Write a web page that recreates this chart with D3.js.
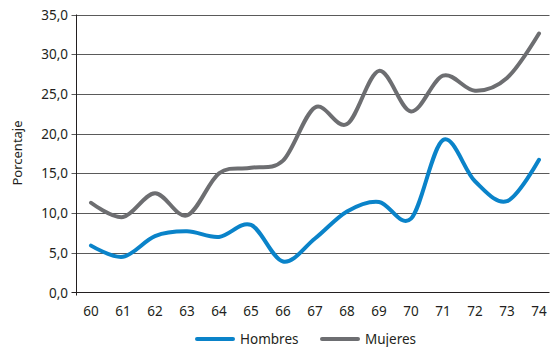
<!DOCTYPE html>
<html>
<head>
<meta charset="utf-8">
<script src="https://cdn.jsdelivr.net/npm/d3@7"></script>
<style>
  html, body { margin: 0; padding: 0; background: #fff; }
  svg { display: block; }
  text { font-family: "Noto Sans", "Open Sans", sans-serif; fill: #231f20; }
</style>
</head>
<body>
<svg id="chart" width="550" height="347"></svg>
<script>
const years = ["60","61","62","63","64","65","66","67","68","69","70","71","72","73","74"];
const hombres = [5.9, 4.5, 7.1, 7.7, 7.0, 8.5, 3.9, 6.8, 10.2, 11.4, 9.3, 19.2, 14.0, 11.5, 16.7];
const mujeres = [11.3, 9.5, 12.5, 9.7, 15.0, 15.7, 16.6, 23.3, 21.2, 27.9, 22.8, 27.3, 25.4, 27.0, 32.6];
const yTicks = [0, 5, 10, 15, 20, 25, 30, 35];
const seriesNames = ["Hombres", "Mujeres"];
const seriesColors = ["#0a83c9", "#6d6e71"];

(function () {
const svg = d3.select("#chart");
const pLeft = 76.5, pRight = 549.5, pTop = 14.5, pBottom = 292.5;

const x = d3.scalePoint().domain(years).range([91, 539]);
const y = d3.scaleLinear().domain([0, 35]).range([pBottom, pTop]);
const fmt = v => d3.format(".1f")(v).replace(".", ",");

// gridlines
svg.append("g").selectAll("line").data(yTicks.filter(d => d > 0)).join("line")
  .attr("x1", pLeft - 5).attr("x2", pRight)
  .attr("y1", d => Math.round(y(d)) + 0.5).attr("y2", d => Math.round(y(d)) + 0.5)
  .attr("stroke", "#5a5a5a").attr("stroke-width", 1);

// y axis labels
svg.append("g").selectAll("text").data(yTicks).join("text")
  .attr("x", 68).attr("y", d => Math.round(y(d)) + 5)
  .attr("text-anchor", "end").attr("font-size", 13.5)
  .text(fmt);

// axes lines
svg.append("line").attr("x1", pLeft).attr("x2", pLeft).attr("y1", pTop).attr("y2", pBottom + 3)
  .attr("stroke", "#231f20").attr("stroke-width", 1);
svg.append("line").attr("x1", pLeft - 5).attr("x2", pRight).attr("y1", pBottom).attr("y2", pBottom)
  .attr("stroke", "#231f20").attr("stroke-width", 1.2);

// x labels
svg.append("g").selectAll("text").data(years).join("text")
  .attr("x", d => x(d)).attr("y", 316)
  .attr("text-anchor", "middle").attr("font-size", 13.5)
  .text(d => d);

// y title
svg.append("text").attr("transform", "translate(22,153) rotate(-90)")
  .attr("text-anchor", "middle").attr("font-size", 13)
  .text("Porcentaje");

// lines
const line = d3.line().x((d, i) => x(years[i])).y(d => y(d)).curve(d3.curveCardinal.tension(0));
[hombres, mujeres].forEach((s, i) => {
  svg.append("path").datum(s).attr("d", line)
    .attr("fill", "none").attr("stroke", seriesColors[i]).attr("stroke-width", 4)
    .attr("stroke-linecap", "round").attr("stroke-linejoin", "round");
});

// legend
const legendX = [197, 322];
seriesNames.forEach((n, i) => {
  const g = svg.append("g").attr("transform", `translate(${legendX[i]},339)`);
  g.append("line").attr("x1", 0).attr("x2", 36).attr("y1", 0).attr("y2", 0)
    .attr("stroke", seriesColors[i]).attr("stroke-width", 4).attr("stroke-linecap", "round");
  g.append("text").attr("x", 43).attr("y", 5).attr("font-size", 13.5).text(n);
});
})();
</script>
</body>
</html>
